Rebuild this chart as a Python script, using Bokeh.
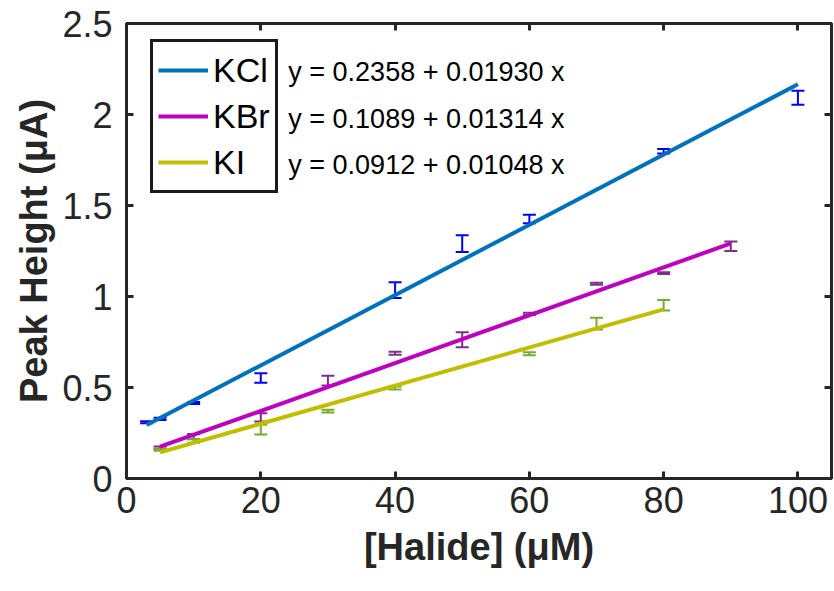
from bokeh.plotting import figure
from bokeh.models import (ColumnDataSource, Whisker, TeeHead, Legend, LegendItem,
                          LinearAxis, FixedTicker, Range1d, Label, Title)
from bokeh.embed import file_html
from bokeh.resources import INLINE

# ---- data ----
x_kcl = [3, 5, 10, 20, 40, 50, 60, 80, 100]
y_kcl = [0.309, 0.328, 0.415, 0.552, 1.035, 1.290, 1.426, 1.798, 2.092]
e_kcl = [0.006, 0.006, 0.006, 0.026, 0.043, 0.046, 0.023, 0.012, 0.039]

x_kbr = [5, 10, 20, 30, 40, 50, 60, 70, 80, 90]
y_kbr = [0.170, 0.230, 0.336, 0.538, 0.688, 0.762, 0.905, 1.070, 1.128, 1.276]
e_kbr = [0.006, 0.015, 0.023, 0.027, 0.008, 0.041, 0.006, 0.005, 0.005, 0.026]

x_ki = [5, 10, 20, 30, 40, 60, 70, 80]
y_ki = [0.158, 0.207, 0.269, 0.370, 0.497, 0.685, 0.851, 0.952]
e_ki = [0.006, 0.010, 0.027, 0.008, 0.008, 0.008, 0.032, 0.029]

names = ["KCl", "KBr", "KI"]
intercepts = [0.2358, 0.1089, 0.0912]
slopes = [0.01930, 0.01314, 0.01048]
fit_ranges = [(3, 100), (5, 90), (5, 80)]
equations = ["y = 0.2358 + 0.01930 x", "y = 0.1089 + 0.01314 x", "y = 0.0912 + 0.01048 x"]

x_ticks = [0, 20, 40, 60, 80, 100]
x_tick_labels = ["0", "20", "40", "60", "80", "100"]
y_ticks = [0, 0.5, 1, 1.5, 2, 2.5]
y_tick_labels = ["0", "0.5", "1", "1.5", "2", "2.5"]

x_title = "[Halide] (μM)"
y_title = "Peak Height (μA)"

fit_colors = ["#0072BD", "#C000C0", "#BFBF00"]
err_colors = ["#0000FF", "#7E2F8E", "#77AC30"]

FONT = "Liberation Sans"
AX = "#262626"

p = figure(width=834, height=591, output_backend="svg", toolbar_location=None,
           x_range=Range1d(0, 105), y_range=Range1d(0, 2.5),
           min_border_left=126, min_border_right=3, min_border_top=23, min_border_bottom=113)
p.grid.visible = False
p.outline_line_color = AX
p.outline_line_width = 3
p.background_fill_color = "white"
p.border_fill_color = "white"

def style_axis(ax, ticks, labels, show_labels=True, standoff=10):
    ax.ticker = FixedTicker(ticks=ticks)
    ax.major_label_overrides = {t: l for t, l in zip(ticks, labels)}
    ax.axis_line_color = AX
    ax.axis_line_width = 3
    ax.major_tick_line_color = AX
    ax.major_tick_line_width = 3
    ax.major_tick_in = 7
    ax.major_tick_out = 0
    ax.minor_tick_line_color = None
    ax.major_label_text_font = FONT
    ax.major_label_text_color = AX
    if show_labels:
        ax.major_label_text_font_size = "36px"
        ax.major_label_standoff = standoff
    else:
        ax.major_label_text_font_size = "0px"
        ax.major_label_standoff = 0

style_axis(p.xaxis[0], x_ticks, x_tick_labels, standoff=8)
style_axis(p.yaxis[0], y_ticks, y_tick_labels, standoff=14)
xa = p.xaxis[0]
xa.axis_label = x_title
xa.axis_label_text_font = FONT
xa.axis_label_text_font_style = "bold"
xa.axis_label_text_font_size = "38px"
xa.axis_label_text_color = AX
xa.axis_label_standoff = 10

top_ax = LinearAxis()
right_ax = LinearAxis()
style_axis(top_ax, x_ticks, [""] * len(x_ticks), show_labels=False)
style_axis(right_ax, y_ticks, [""] * len(y_ticks), show_labels=False)
p.add_layout(top_ax, "above")
p.add_layout(right_ax, "right")

# y-axis title as a side title
ytitle = Title(text=y_title, align="center", text_font=FONT, text_font_style="bold",
               text_font_size="38px", text_color=AX, offset=0, standoff=10)
p.add_layout(ytitle, "left")

# ---- error bars ----
series = [(x_kcl, y_kcl, e_kcl), (x_kbr, y_kbr, e_kbr), (x_ki, y_ki, e_ki)]
for (xs, ys, es), col in zip(series, err_colors):
    src = ColumnDataSource(dict(x=xs, lo=[y - e for y, e in zip(ys, es)],
                                hi=[y + e for y, e in zip(ys, es)]))
    w = Whisker(source=src, base="x", lower="lo", upper="hi",
                line_color=col, line_width=2,
                upper_head=TeeHead(size=13, line_color=col, line_width=2),
                lower_head=TeeHead(size=13, line_color=col, line_width=2))
    p.add_layout(w)

# ---- fit lines ----
items = []
for name, b, m, (x0, x1), col in zip(names, intercepts, slopes, fit_ranges, fit_colors):
    xs = [x0, x1]
    ys = [b + m * x for x in xs]
    r = p.line(xs, ys, line_color=col, line_width=4)
    items.append(LegendItem(label=name, renderers=[r]))

legend = Legend(items=items, location=(24, 285), orientation="vertical",
                label_text_font=FONT, label_text_font_size="34px", label_text_color="black",
                glyph_width=50, glyph_height=46, label_height=46, label_standoff=5,
                spacing=0, padding=5, margin=0,
                border_line_color="#1a1a1a", border_line_width=3, border_line_alpha=1,
                background_fill_color="white", background_fill_alpha=1)
p.add_layout(legend, "center")

# ---- equations ----
eq_y = [2.231, 1.978, 1.720]
for txt, yv in zip(equations, eq_y):
    p.add_layout(Label(x=24.1, y=yv, text=txt, text_font=FONT, text_font_size="27px",
                       text_baseline="middle", text_align="left", text_color="black"))

open("out.html", "w").write(file_html(p, INLINE))
